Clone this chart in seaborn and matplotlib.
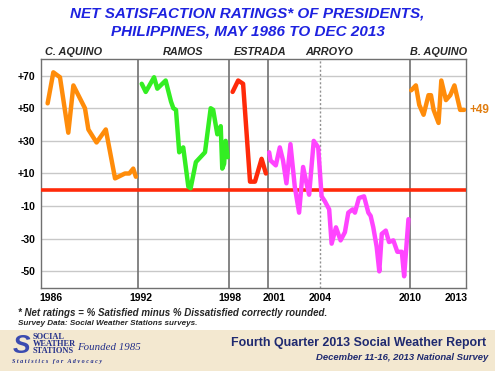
import numpy as np
import pandas as pd
import matplotlib
matplotlib.use("Agg")
import matplotlib.pyplot as plt
from matplotlib.patches import Rectangle
import seaborn as sns

# DATA (time in decimal years)
c_aquino_t = [1986.83, 1987.2, 1987.63, 1988.17, 1988.5, 1989.25, 1989.47, 1990.0,
              1990.6, 1991.2, 1991.84, 1992.12, 1992.38, 1992.55]
c_aquino_v = [53, 72, 69, 35, 64, 50, 37, 29, 37, 7, 10, 10, 13, 8]

ramos_t = [1992.93, 1993.19, 1993.73, 1993.94, 1994.48, 1994.83, 1994.98, 1995.15,
           1995.36, 1995.62, 1995.95, 1996.1, 1996.44, 1997.03, 1997.4, 1997.56,
           1997.83, 1998.05, 1998.15, 1998.27, 1998.37, 1998.5]
ramos_v = [65, 60, 69, 62, 67, 54, 50, 49, 23, 26, 2, 1, 17, 23, 50, 49,
           34, 39, 13, 16, 30, 20]

estrada_t = [1998.82, 1999.18, 1999.5, 1999.95, 2000.27, 2000.7, 2000.98]
estrada_v = [60, 67, 65, 5, 5, 19, 10]

arroyo_t = [2001.19, 2001.28, 2001.62, 2001.88, 2002.09, 2002.31, 2002.57, 2002.85,
            2003.13, 2003.39, 2003.61, 2003.78, 2004.08, 2004.37, 2004.59, 2004.8,
            2005.08, 2005.24, 2005.52, 2005.82, 2006.1, 2006.32, 2006.6, 2006.75,
            2007.01, 2007.34, 2007.62, 2007.77, 2007.94, 2008.16, 2008.33, 2008.49,
            2008.75, 2008.96, 2009.24, 2009.5, 2009.79, 2009.94, 2010.22]
arroyo_v = [23, 18, 15, 26, 18, 4, 28, 2, -14, 14, 4, -3, 30, 26, -4, -7,
            -12, -33, -23, -31, -26, -14, -12, -14, -5, -4, -14, -16, -23, -35,
            -50, -27, -25, -32, -31, -38, -38, -53, -18]

b_aquino_t = [2010.4, 2010.7, 2010.92, 2011.2, 2011.52, 2011.68, 2011.85, 2012.17,
              2012.35, 2012.65, 2012.93, 2013.2, 2013.57, 2013.83]
b_aquino_v = [61, 64, 52, 46, 58, 58, 49, 41, 67, 55, 58, 64, 49, 49]

presidents = ["C. AQUINO", "RAMOS", "ESTRADA", "ARROYO", "B. AQUINO"]
pres_colors = ["#FF8C0A", "#33EE22", "#FF2A0A", "#FF44FF", "#FF8C0A"]
pres_label_x = [1986.65, 1994.3, 1998.9, 2003.5, 2010.3]

boundary_t = [1992.69, 1998.58, 2001.11, 2010.31]
dotted_t = 2004.48

tick_pos = [1987.05, 1992.88, 1998.65, 2001.53, 2004.48, 2010.31, 2013.33]
tick_labels = ["1986", "1992", "1998", "2001", "2004", "2010", "2013"]

y_ticks = [70, 50, 30, 10, -10, -30, -50]
y_labels = ["+70", "+50", "+30", "+10", "-10", "-30", "-50"]

last_label = "+49"

# build long table
frames = []
for name, t, v in zip(presidents,
                      [c_aquino_t, ramos_t, estrada_t, arroyo_t, b_aquino_t],
                      [c_aquino_v, ramos_v, estrada_v, arroyo_v, b_aquino_v]):
    frames.append(pd.DataFrame({"time": t, "rating": v, "president": name}))
df = pd.concat(frames, ignore_index=True)

sns.set_theme(style="white")
plt.rcParams["font.family"] = ["Liberation Sans", "DejaVu Sans"]

fig = plt.figure(figsize=(4.95, 3.71), dpi=100)
fig.patch.set_facecolor("white")

# bottom band
fig.patches.append(Rectangle((0, 0), 1, 41 / 371, transform=fig.transFigure,
                             facecolor="#F3E8D0", edgecolor="none", zorder=0))

ax = fig.add_axes([41 / 495, 1 - 287.7 / 371, 425 / 495, 228.4 / 371])
ax.set_facecolor("white")

# grid lines
for y in y_ticks:
    ax.axhline(y, color="#C8C8C8", lw=1.0, zorder=1)

for t in boundary_t:
    ax.axvline(t, color="#707070", lw=1.2, zorder=2)
ax.axvline(dotted_t, color="#909090", lw=1.0, ls=(0, (1.5, 1.5)), zorder=2)

ax.axhline(0, color="#FF2A0A", lw=2.6, zorder=3)

sns.lineplot(data=df, x="time", y="rating", hue="president", units="president",
             estimator=None, sort=False, palette=pres_colors,
             hue_order=presidents, lw=3.2, legend=False, ax=ax, zorder=4)

ax.set_xlim(1986.4, 2013.95)
ax.set_ylim(-60, 80)
ax.set_xticks(tick_pos)
ax.set_xticklabels(tick_labels, fontsize=7.5, fontweight="bold")
ax.set_yticks(y_ticks)
ax.set_yticklabels(y_labels, fontsize=7.5, fontweight="bold")
ax.tick_params(axis="both", length=0, pad=4, colors="black")
ax.set_xlabel("")
ax.set_ylabel("")
for s in ax.spines.values():
    s.set_color("#707070")
    s.set_linewidth(1.0)

ax.text(2014.2, 49, last_label, color="#E07D10", fontsize=8.5, fontweight="bold",
        va="center", ha="left", clip_on=False)

for name, x in zip(presidents, pres_label_x):
    ax.text(x, 81.5, name, fontsize=7.8, fontweight="bold", style="italic",
            ha="left", va="bottom", clip_on=False)

# title
fig.text(0.5, 1 - 13 / 371, "NET SATISFACTION RATINGS* OF PRESIDENTS,",
         ha="center", va="center", color="#1E22E0", fontsize=11.0,
         fontweight="bold", style="italic")
fig.text(0.5, 1 - 32 / 371, "PHILIPPINES, MAY 1986 TO DEC 2013",
         ha="center", va="center", color="#1E22E0", fontsize=11.0,
         fontweight="bold", style="italic")

# footnotes
fig.text(18 / 495, 1 - 313 / 371,
         "* Net ratings = % Satisfied minus % Dissatisfied correctly rounded.",
         ha="left", va="center", fontsize=7.0, fontweight="bold", style="italic")
fig.text(18 / 495, 1 - 323.5 / 371, "Survey Data: Social Weather Stations surveys.",
         ha="left", va="center", fontsize=5.9, fontweight="bold", style="italic")

# logo
navy = "#24308A"
fig.text(13 / 495, 1 - 346 / 371, "S", ha="left", va="center", fontsize=19,
         fontweight="bold", style="italic", color="#3B4BB0")
fig.text(33 / 495, 1 - 344 / 371, "SOCIAL\nWEATHER\nSTATIONS", ha="left", va="center",
         fontsize=6.0, fontweight="bold", color=navy, family="Liberation Serif",
         linespacing=0.8)
fig.text(77 / 495, 1 - 347 / 371, "Founded 1985", ha="left", va="center",
         fontsize=7.8, style="italic", color=navy, family="Liberation Serif")
fig.text(12 / 495, 1 - 362 / 371, "S t a t i s t i c s   f o r   A d v o c a c y",
         ha="left", va="center", fontsize=4.4, fontweight="bold", style="italic",
         color=navy, family="Liberation Serif")

fig.text(486 / 495, 1 - 343 / 371, "Fourth Quarter 2013 Social Weather Report",
         ha="right", va="center", fontsize=8.9, fontweight="bold", color="#1F2A70")
fig.text(488 / 495, 1 - 357 / 371, "December 11-16, 2013 National Survey",
         ha="right", va="center", fontsize=6.8, fontweight="bold", style="italic",
         color="#1F2A70")

fig.savefig("out.png", dpi=100)
